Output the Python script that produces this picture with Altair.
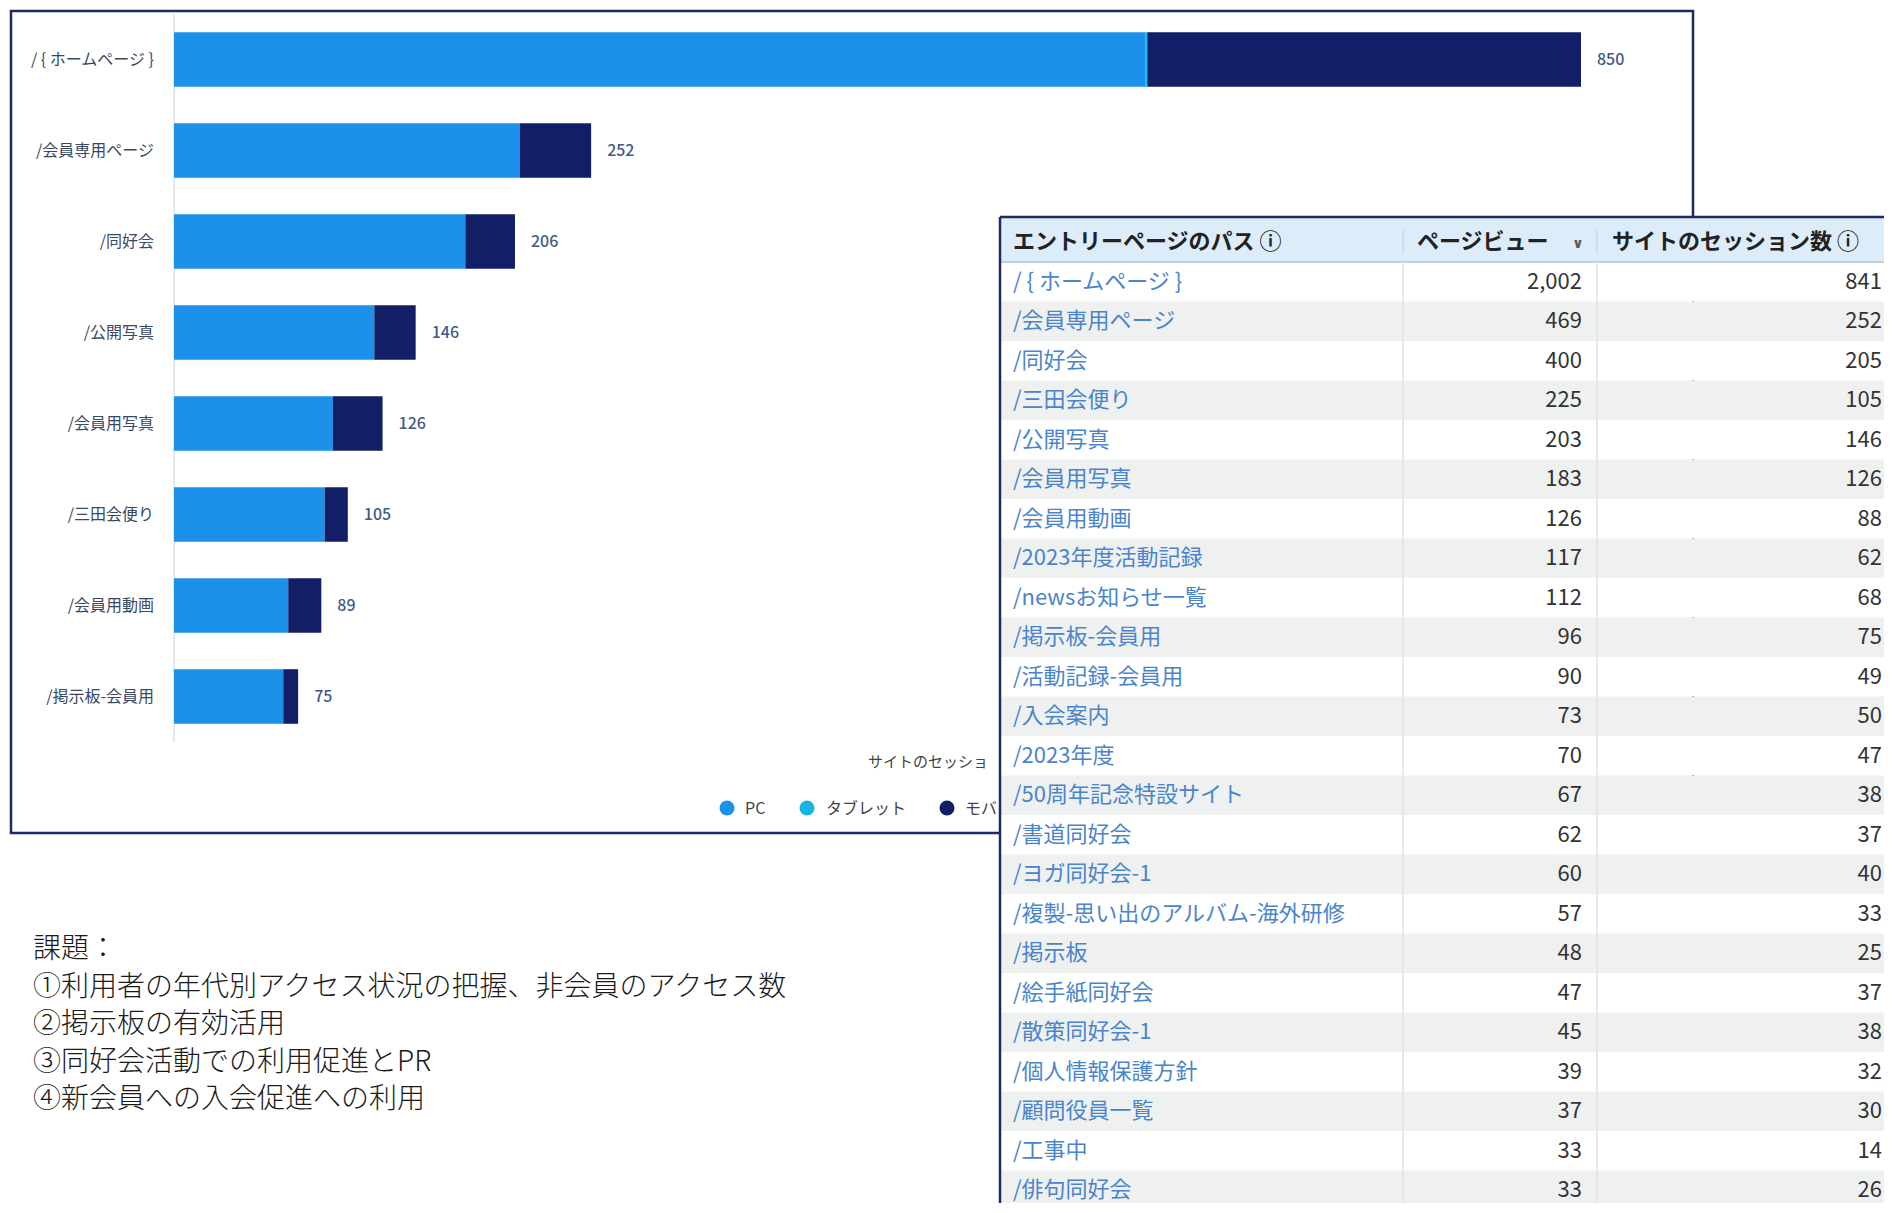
import altair as alt
import pandas as pd

# ---------------- data ----------------
pages = ["/ { ホームページ }", "/会員専用ページ", "/同好会", "/公開写真",
         "/会員用写真", "/三田会便り", "/会員用動画", "/掲示板-会員用"]
devices = ["PC", "タブレット", "モバイル"]
pc_sessions = [587, 209, 176, 121, 96, 91, 69, 66]
tablet_sessions = [1, 0, 0, 0, 0, 0, 0, 0]
mobile_sessions = [262, 43, 30, 25, 30, 14, 20, 9]
total_sessions = [850, 252, 206, 146, 126, 105, 89, 75]
x_title = "サイトのセッション数"

table_headers = ["エントリーページのパス ⓘ", "ページビュー", "サイトのセッション数 ⓘ"]
table_paths = ["/ { ホームページ }", "/会員専用ページ", "/同好会", "/三田会便り", "/公開写真",
               "/会員用写真", "/会員用動画", "/2023年度活動記録", "/newsお知らせ一覧",
               "/掲示板-会員用", "/活動記録-会員用", "/入会案内", "/2023年度",
               "/50周年記念特設サイト", "/書道同好会", "/ヨガ同好会-1",
               "/複製-思い出のアルバム-海外研修", "/掲示板", "/絵手紙同好会",
               "/散策同好会-1", "/個人情報保護方針", "/顧問役員一覧", "/工事中", "/俳句同好会"]
table_pageviews = [2002, 469, 400, 225, 203, 183, 126, 117, 112, 96, 90, 73, 70,
                   67, 62, 60, 57, 48, 47, 45, 39, 37, 33, 33]
table_sessions = [841, 252, 205, 105, 146, 126, 88, 62, 68, 75, 49, 50, 47,
                  38, 37, 40, 33, 25, 37, 38, 32, 30, 14, 26]

notes = ["課題：",
         "①利用者の年代別アクセス状況の把握、非会員のアクセス数",
         "②掲示板の有効活用",
         "③同好会活動での利用促進とPR",
         "④新会員への入会促進への利用"]

# ---------------- layout / style ----------------
M = 8                      # page margin
W, H = 1876, 1195
FONT = "Noto Sans CJK JP"
dev_colors = ["#1b91ea", "#17b3e3", "#121f66"]
NAVY = "#1d2a63"
TX0, TX1 = 1000, 1900      # table left / right edge
HIDE = "\u200b"            # invisible ellipsis for text that runs under the table


def p(v):
    return v - M


one = pd.DataFrame({"k": [0]})

bar_rows = []
for i, pg in enumerate(pages):
    for j, (d, vals) in enumerate(zip(devices, [pc_sessions, tablet_sessions, mobile_sessions])):
        bar_rows.append({"page": pg, "device": d, "value": vals[i], "ord": j})
bar_df = pd.DataFrame(bar_rows)
tot_df = pd.DataFrame({"page": pages, "total": total_sessions})
dev_df = pd.DataFrame({"device": devices})

y_bar = alt.Y("page:N", sort=pages, axis=None,
              scale=alt.Scale(domain=pages, range=[p(14), p(742)],
                              paddingInner=0.4, paddingOuter=0.2))
x_scale = alt.Scale(domain=[0, 850], range=[p(174), p(1581)], nice=False, zero=True)
dev_scale = alt.Scale(domain=devices, range=dev_colors)

frame = alt.Chart(one).mark_rect(fill="white", stroke=NAVY, strokeWidth=2.5).encode(
    x=alt.value(p(11)), x2=alt.value(p(1693)), y=alt.value(p(11)), y2=alt.value(p(833)))

axis_line = alt.Chart(one).mark_rule(color="#d5dbe5", strokeWidth=1.2).encode(
    x=alt.value(p(174)), y=alt.value(p(14)), y2=alt.value(p(742)))

bars = alt.Chart(bar_df).mark_bar().encode(
    x=alt.X("value:Q", stack="zero", scale=x_scale, axis=None),
    y=y_bar,
    color=alt.Color("device:N", scale=dev_scale, legend=None),
    order=alt.Order("ord:Q"))

value_labels = alt.Chart(tot_df).mark_text(
    align="left", baseline="middle", dx=16, font=FONT, fontSize=16,
    fontWeight=500, color="#3f5b87").encode(
    x=alt.X("total:Q", scale=x_scale, axis=None), y=y_bar, text="total:Q")

y_labels = alt.Chart(tot_df).mark_text(
    align="right", baseline="middle", font=FONT, fontSize=16, color="#394863").encode(
    x=alt.value(p(154)), y=y_bar, text="page:N")

# the axis title runs under the overlaid table: crop it at the table's edge
xtitle = alt.Chart(one).mark_text(
    align="left", baseline="middle", font=FONT, fontSize=15, color="#444444",
    limit=TX0 - 868 - 1, ellipsis=HIDE).encode(
    x=alt.value(p(868)), y=alt.value(p(762)), text=alt.value(x_title))

legend_layers = []
LEG_DOT_X = [727, 807, 947]
LEG_TXT_X = [745, 826, 965]
for d, dx_, tx_ in zip(devices, LEG_DOT_X, LEG_TXT_X):
    legend_layers.append(
        alt.Chart(dev_df).transform_filter(alt.datum.device == d)
        .mark_circle(size=225, opacity=1).encode(
            x=alt.value(p(dx_)), y=alt.value(p(808)),
            color=alt.Color("device:N", scale=dev_scale, legend=None)))
    legend_layers.append(
        alt.Chart(dev_df).transform_filter(alt.datum.device == d)
        .mark_text(align="left", baseline="middle", font=FONT, fontSize=16, color="#444444",
                   limit=TX0 - tx_ - 1, ellipsis=HIDE)
        .encode(x=alt.value(p(tx_)), y=alt.value(p(809)), text="device:N"))

# ---------------- table ----------------
ROW_H = 39.5
BODY_TOP = 262
n = len(table_paths)
tbl = pd.DataFrame({"r": list(range(n)), "path": table_paths,
                    "pv": [f"{v:,}" for v in table_pageviews],
                    "ses": [str(v) for v in table_sessions]})
row_y = alt.Y("r:O", axis=None,
              scale=alt.Scale(domain=list(range(n)),
                              range=[p(BODY_TOP), p(BODY_TOP + n * ROW_H)],
                              paddingInner=0, paddingOuter=0))

rows_bg = alt.Chart(tbl).transform_calculate(stripe="datum.r % 2").mark_rect().encode(
    x=alt.value(p(TX0)), x2=alt.value(p(TX1)), y=row_y,
    color=alt.Color("stripe:N", scale=alt.Scale(domain=[0, 1], range=["#ffffff", "#eff1f1"]),
                    legend=None))

hdr_bg = alt.Chart(one).mark_rect(fill="#dcecf9").encode(
    x=alt.value(p(TX0)), x2=alt.value(p(TX1)), y=alt.value(p(217)), y2=alt.value(p(BODY_TOP)))
hdr_line = alt.Chart(one).mark_rule(color="#c3cfd9", strokeWidth=2).encode(
    x=alt.value(p(TX0)), x2=alt.value(p(TX1)), y=alt.value(p(BODY_TOP)))

col_rules = [alt.Chart(one).mark_rule(color="#e1e3e5", strokeWidth=1.5).encode(
    x=alt.value(p(cx)), y=alt.value(p(BODY_TOP)), y2=alt.value(p(1215))) for cx in (1403, 1597)]
hdr_seps = [alt.Chart(one).mark_rule(color="#c8d4de", strokeWidth=1.2).encode(
    x=alt.value(p(cx)), y=alt.value(p(230)), y2=alt.value(p(254))) for cx in (1403, 1597)]

border_top = alt.Chart(one).mark_rule(color=NAVY, strokeWidth=2.5).encode(
    x=alt.value(p(TX0)), x2=alt.value(p(TX1)), y=alt.value(p(217)))
border_left = alt.Chart(one).mark_rule(color=NAVY, strokeWidth=2.5).encode(
    x=alt.value(p(TX0)), y=alt.value(p(217)), y2=alt.value(p(1215)))

hdr_texts = []
for txt, hx in zip(table_headers, (1013, 1417, 1612)):
    hdr_texts.append(alt.Chart(one).mark_text(
        align="left", baseline="middle", font=FONT, fontSize=22, fontWeight="bold",
        color="#222222").encode(x=alt.value(p(hx)), y=alt.value(p(242)), text=alt.value(txt)))
chevron = alt.Chart(one).mark_text(
    align="center", baseline="middle", font="DejaVu Sans", fontSize=14, fontWeight="bold",
    color="#555555").encode(
    x=alt.value(p(1578)), y=alt.value(p(244)), text=alt.value("∨"))

col_path = alt.Chart(tbl).mark_text(
    align="left", baseline="middle", font=FONT, fontSize=22, color="#4a84cc").encode(
    x=alt.value(p(1013)), y=row_y, text="path:N")
col_pv = alt.Chart(tbl).mark_text(
    align="right", baseline="middle", font=FONT, fontSize=22, color="#333333").encode(
    x=alt.value(p(1582)), y=row_y, text="pv:N")
col_ses = alt.Chart(tbl).mark_text(
    align="right", baseline="middle", font=FONT, fontSize=22, color="#333333").encode(
    x=alt.value(p(1882)), y=row_y, text="ses:N")

# ---------------- notes ----------------
notes_df = pd.DataFrame({"i": list(range(len(notes))), "line": notes})
NOTE_H = 37.5
notes_y = alt.Y("i:O", axis=None,
                scale=alt.Scale(domain=list(range(len(notes))),
                                range=[p(950 - NOTE_H / 2), p(950 - NOTE_H / 2 + len(notes) * NOTE_H)],
                                paddingInner=0, paddingOuter=0))
notes_layer = alt.Chart(notes_df).mark_text(
    align="left", baseline="middle", font=FONT, fontSize=28, fontWeight=300,
    color="#1a1a1a").encode(x=alt.value(p(33)), y=notes_y, text="line:N")

layers = ([frame, axis_line, bars, value_labels, y_labels, xtitle] + legend_layers +
          [rows_bg, hdr_bg, hdr_line] + col_rules + hdr_seps + [border_top, border_left] +
          hdr_texts + [chevron, col_path, col_pv, col_ses, notes_layer])

chart = alt.layer(*layers).resolve_scale(
    x="independent", y="independent", color="independent"
).properties(
    width=W, height=H, padding=0, autosize=alt.AutoSizeParams(type="none")
).configure_view(stroke=None)

chart.save("out.html", embed_options={"renderer": "svg", "actions": False})
